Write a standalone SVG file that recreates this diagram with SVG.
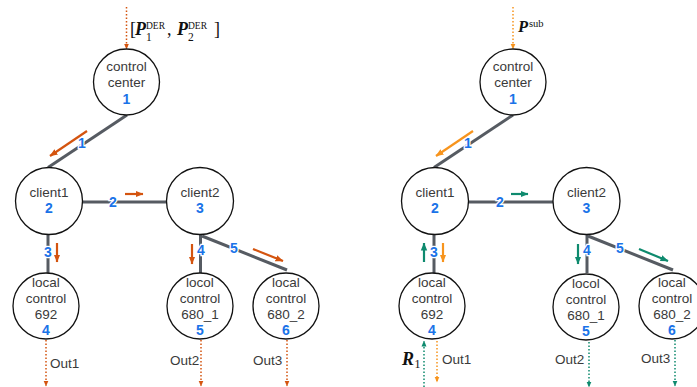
<svg xmlns="http://www.w3.org/2000/svg" width="697" height="387" viewBox="0 0 697 387">
<style>
.nd{fill:#fff;stroke:#111;stroke-width:1.3}
.t{font-family:"Liberation Sans",Arial,sans-serif;font-size:13.5px;fill:#3a3a3a;text-anchor:middle}
.n{font-family:"Liberation Sans",Arial,sans-serif;font-size:14px;font-weight:bold;fill:#1a73e8;text-anchor:middle}
.el{font-family:"Liberation Sans",Arial,sans-serif;font-size:14px;font-weight:bold;fill:#1a73e8;text-anchor:middle;stroke:#fff;stroke-width:2.5;paint-order:stroke}
.o{font-family:"Liberation Sans",Arial,sans-serif;font-size:13.5px;fill:#3a3a3a}
.ed{stroke:#565b62;stroke-width:3;fill:none}
.m{font-family:"Liberation Serif","Times New Roman",serif;fill:#111}
.aD{stroke:#d4540f;stroke-width:2.2;marker-end:url(#hD)}
.aL{stroke:#f7941d;stroke-width:2.2;marker-end:url(#hL)}
.aT{stroke:#0e8a6e;stroke-width:2.2;marker-end:url(#hT)}
.dD{stroke:#d4540f;stroke-width:1.5;stroke-dasharray:1.5 2;marker-end:url(#sD)}
.dL{stroke:#f7941d;stroke-width:1.5;stroke-dasharray:1.5 2;marker-end:url(#sL)}
.dT{stroke:#0e8a6e;stroke-width:1.5;stroke-dasharray:1.5 2;marker-end:url(#sT)}
</style>
<defs>
<marker id="hD" viewBox="0 0 8 8" markerWidth="8" markerHeight="8" refX="7.5" refY="4" orient="auto" markerUnits="userSpaceOnUse"><path d="M0,0.8 L8,4 L0,7.2 z" fill="#d4540f"/></marker>
<marker id="hL" viewBox="0 0 8 8" markerWidth="8" markerHeight="8" refX="7.5" refY="4" orient="auto" markerUnits="userSpaceOnUse"><path d="M0,0.8 L8,4 L0,7.2 z" fill="#f7941d"/></marker>
<marker id="hT" viewBox="0 0 8 8" markerWidth="8" markerHeight="8" refX="7.5" refY="4" orient="auto" markerUnits="userSpaceOnUse"><path d="M0,0.8 L8,4 L0,7.2 z" fill="#0e8a6e"/></marker>
<marker id="sD" viewBox="0 0 6 6" markerWidth="6" markerHeight="6" refX="5.5" refY="3" orient="auto" markerUnits="userSpaceOnUse"><path d="M0,0.5 L6,3 L0,5.5 z" fill="#d4540f"/></marker>
<marker id="sL" viewBox="0 0 6 6" markerWidth="6" markerHeight="6" refX="5.5" refY="3" orient="auto" markerUnits="userSpaceOnUse"><path d="M0,0.5 L6,3 L0,5.5 z" fill="#f7941d"/></marker>
<marker id="sT" viewBox="0 0 6 6" markerWidth="6" markerHeight="6" refX="5.5" refY="3" orient="auto" markerUnits="userSpaceOnUse"><path d="M0,0.5 L6,3 L0,5.5 z" fill="#0e8a6e"/></marker>
</defs>
<g id="connectors">
<line class="ed" x1="127" y1="115" x2="48" y2="167.5"/>
<line class="ed" x1="82" y1="202" x2="167" y2="202"/>
<line class="ed" x1="48" y1="234" x2="48" y2="273"/>
<line class="ed" x1="200.5" y1="234" x2="200.5" y2="273"/>
<line class="ed" x1="202" y1="236" x2="287" y2="270"/>
<line class="ed" x1="513" y1="115" x2="434" y2="167.5"/>
<line class="ed" x1="468" y1="202" x2="553" y2="202"/>
<line class="ed" x1="434" y1="234" x2="434" y2="273"/>
<line class="ed" x1="587" y1="234" x2="587" y2="273"/>
<line class="ed" x1="588" y1="236" x2="673" y2="270"/>
<text class="el" x="82" y="148">1</text>
<text class="el" x="113" y="207">2</text>
<text class="el" x="48" y="257">3</text>
<text class="el" x="201" y="255">4</text>
<text class="el" x="234" y="253">5</text>
<text class="el" x="468" y="148">1</text>
<text class="el" x="500" y="207">2</text>
<text class="el" x="434" y="257">3</text>
<text class="el" x="587" y="255">4</text>
<text class="el" x="620" y="253">5</text>
<line class="aD" x1="87" y1="131" x2="50" y2="156"/>
<line class="aD" x1="125" y1="194" x2="143" y2="194"/>
<line class="aD" x1="57" y1="243" x2="57" y2="262"/>
<line class="aD" x1="192" y1="244" x2="192" y2="264"/>
<line class="aD" x1="253" y1="249" x2="283" y2="261"/>
<line class="aL" x1="473" y1="131" x2="436" y2="156"/>
<line class="aT" x1="511" y1="194" x2="528" y2="194"/>
<line class="aT" x1="424" y1="262" x2="424" y2="243"/>
<line class="aL" x1="443" y1="243" x2="443" y2="262"/>
<line class="aT" x1="578" y1="244" x2="578" y2="264"/>
<line class="aT" x1="639" y1="249" x2="668" y2="261"/>
<line class="dD" x1="126.5" y1="7" x2="126.5" y2="49"/>
<line class="dD" x1="46" y1="340" x2="46" y2="386"/>
<line class="dD" x1="201" y1="340" x2="201" y2="386"/>
<line class="dD" x1="287" y1="340" x2="287" y2="386"/>
<line class="dL" x1="513" y1="7" x2="513" y2="49"/>
<line class="dT" x1="424" y1="387" x2="424" y2="341"/>
<line class="dL" x1="437" y1="341" x2="437" y2="382"/>
<line class="dT" x1="589" y1="342" x2="589" y2="387"/>
<line class="dT" x1="675" y1="340" x2="675" y2="386"/>
</g>
<g id="labels">
<text class="m" x="130" y="35" font-size="18">[</text>
<text class="m" x="135" y="35" font-size="18" font-weight="bold" font-style="italic">P</text>
<text class="m" x="146" y="41" font-size="11.5">1</text>
<text class="m" x="146" y="28.5" font-size="9.5">DER</text>
<text class="m" x="167" y="35" font-size="18">,</text>
<text class="m" x="177" y="35" font-size="18" font-weight="bold" font-style="italic">P</text>
<text class="m" x="188" y="41" font-size="11.5">2</text>
<text class="m" x="188" y="28.5" font-size="9.5">DER</text>
<text class="m" x="214" y="35" font-size="18">]</text>
<text class="m" x="518" y="32" font-size="16.5" font-weight="bold" font-style="italic">P</text>
<text class="m" x="529" y="26.5" font-size="10.5">sub</text>
<text class="m" x="402" y="365" font-size="18" font-weight="bold" font-style="italic">R</text>
<text class="m" x="414.5" y="368" font-size="12">1</text>
<text class="o" x="50" y="368">Out1</text>
<text class="o" x="170" y="365">Out2</text>
<text class="o" x="253" y="365">Out3</text>
<text class="o" x="442" y="364">Out1</text>
<text class="o" x="555" y="364">Out2</text>
<text class="o" x="641" y="363">Out3</text>
</g>
<g id="L-cc"><circle class="nd" cx="126.5" cy="82" r="33"/><text class="t" x="126.5" y="71">control</text><text class="t" x="126.5" y="87">center</text><text class="n" x="126.5" y="104">1</text></g>
<g id="L-client1"><circle class="nd" cx="49" cy="201" r="33.5"/><text class="t" x="49" y="197">client1</text><text class="n" x="49" y="213">2</text></g>
<g id="L-client2"><circle class="nd" cx="200" cy="201" r="33.5"/><text class="t" x="200" y="197">client2</text><text class="n" x="200" y="213">3</text></g>
<g id="L-lc692"><circle class="nd" cx="46" cy="306" r="33"/><text class="t" x="46" y="287">local</text><text class="t" x="46" y="303">control</text><text class="t" x="46" y="319">692</text><text class="n" x="46" y="335">4</text></g>
<g id="L-lc680_1"><circle class="nd" cx="200" cy="306" r="33"/><text class="t" x="200" y="287">locol</text><text class="t" x="200" y="303">control</text><text class="t" x="200" y="319">680_1</text><text class="n" x="200" y="335">5</text></g>
<g id="L-lc680_2"><circle class="nd" cx="286" cy="306" r="33"/><text class="t" x="286" y="287">local</text><text class="t" x="286" y="303">control</text><text class="t" x="286" y="319">680_2</text><text class="n" x="286" y="335">6</text></g>
<g id="R-cc"><circle class="nd" cx="513" cy="82" r="33"/><text class="t" x="513" y="71">control</text><text class="t" x="513" y="87">center</text><text class="n" x="513" y="104">1</text></g>
<g id="R-client1"><circle class="nd" cx="435" cy="201" r="33.5"/><text class="t" x="435" y="197">client1</text><text class="n" x="435" y="213">2</text></g>
<g id="R-client2"><circle class="nd" cx="586.5" cy="201" r="33.5"/><text class="t" x="586.5" y="197">client2</text><text class="n" x="586.5" y="213">3</text></g>
<g id="R-lc692"><circle class="nd" cx="432" cy="306" r="33"/><text class="t" x="432" y="287">local</text><text class="t" x="432" y="303">control</text><text class="t" x="432" y="319">692</text><text class="n" x="432" y="335">4</text></g>
<g id="R-lc680_1"><circle class="nd" cx="586" cy="307" r="33"/><text class="t" x="586" y="288">locol</text><text class="t" x="586" y="304">control</text><text class="t" x="586" y="320">680_1</text><text class="n" x="586" y="336">5</text></g>
<g id="R-lc680_2"><circle class="nd" cx="672" cy="306" r="33"/><text class="t" x="672" y="287">local</text><text class="t" x="672" y="303">control</text><text class="t" x="672" y="319">680_2</text><text class="n" x="672" y="335">6</text></g>
</svg>
